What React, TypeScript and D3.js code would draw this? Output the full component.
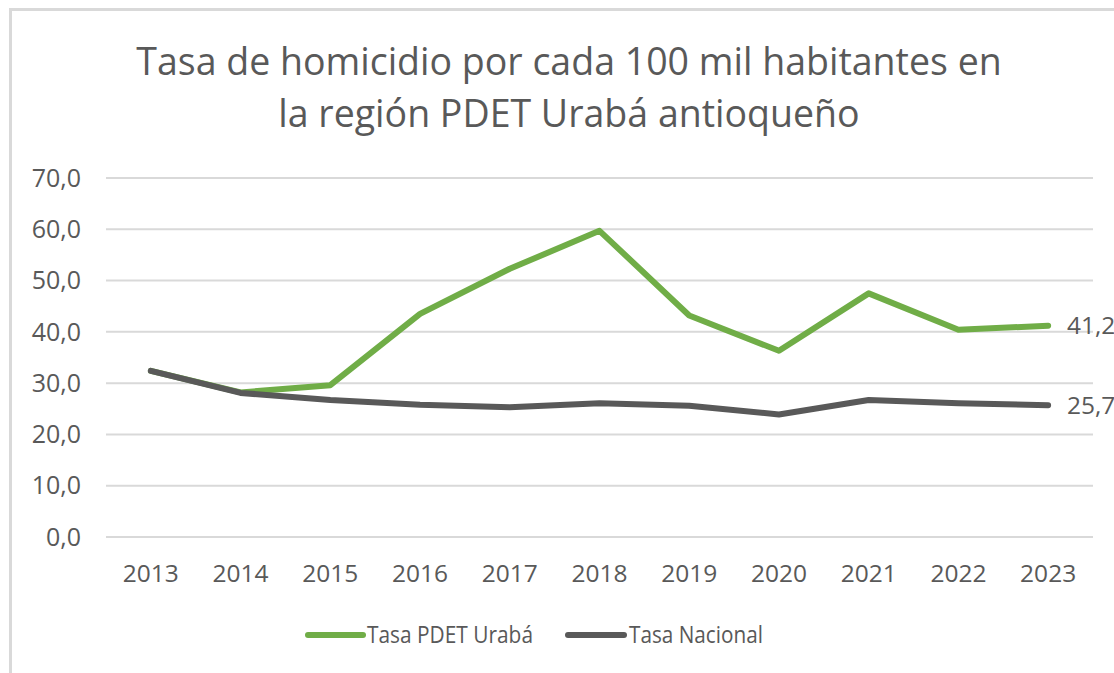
import React from "react";
import * as d3 from "d3";

const years = ["2013","2014","2015","2016","2017","2018","2019","2020","2021","2022","2023"];
const urabaValues = [32.4, 28.2, 29.6, 43.5, 52.3, 59.7, 43.2, 36.3, 47.5, 40.4, 41.2];
const nacionalValues = [32.4, 28.1, 26.7, 25.8, 25.3, 26.1, 25.6, 23.9, 26.7, 26.1, 25.7];
const yTicks = [0, 10, 20, 30, 40, 50, 60, 70];
const titleLines = ["Tasa de homicidio por cada 100 mil habitantes en", "la región PDET Urabá antioqueño"];
const seriesNames = ["Tasa PDET Urabá", "Tasa Nacional"];

const W = 1114, H = 673;
const GREEN = "#70AD47";
const GRAY = "#595959";
const TEXT = "#595959";
const FONT = "'Open Sans', 'Noto Sans', sans-serif";

export default function App() {
  const x = d3.scalePoint<string>().domain(years).range([106, 1093]).padding(0.5);
  const y = d3.scaleLinear().domain([0, 70]).range([537, 178]);
  const fmt = (v: number) => v.toFixed(1).replace(".", ",");
  const line = d3.line<number>()
    .x((_, i) => x(years[i]) as number)
    .y((d) => y(d));

  const series = [
    { name: seriesNames[0], values: urabaValues, color: GREEN },
    { name: seriesNames[1], values: nacionalValues, color: GRAY },
  ];
  const legendItems = [
    { name: seriesNames[0], color: GREEN, x1: 308, x2: 363, tx: 367, tw: 166 },
    { name: seriesNames[1], color: GRAY, x1: 568, x2: 624, tx: 629, tw: 134 },
  ];

  return (
    <svg width={W} height={H} style={{ position: "absolute", left: 0, top: 0, background: "#fff" }} fontFamily={FONT}>
      <rect x={0} y={0} width={W} height={H} fill="#fff" />
      <rect x={10.5} y={9.5} width={1300} height={900} fill="none" stroke="#d9d9d9" strokeWidth={3} />
      {titleLines.map((t, i) => (
        <text key={i} x={569} y={75 + i * 52} textAnchor="middle" fontSize={37.5} fill={TEXT}>{t}</text>
      ))}
      {yTicks.map((t) => (
        <g key={t}>
          <line x1={106} x2={1093} y1={y(t)} y2={y(t)} stroke="#d9d9d9" strokeWidth={2} />
          <text x={81} y={y(t)} dy="0.35em" textAnchor="end" fontSize={25} fill={TEXT}>{fmt(t)}</text>
        </g>
      ))}
      {years.map((yr) => (
        <text key={yr} x={x(yr)} y={582} textAnchor="middle" fontSize={24.5} fill={TEXT}>{yr}</text>
      ))}
      {series.map((s) => (
        <path key={s.name} d={line(s.values) || ""} fill="none" stroke={s.color} strokeWidth={6} strokeLinejoin="round" strokeLinecap="round" />
      ))}
      {series.map((s) => (
        <text key={s.name + "l"} x={1067} y={y(s.values[s.values.length - 1])} dy="0.35em" fontSize={24.5} fill={TEXT}>
          {fmt(s.values[s.values.length - 1])}
        </text>
      ))}
      {legendItems.map((l) => (
        <g key={l.name}>
          <line x1={l.x1} x2={l.x2} y1={635} y2={635} stroke={l.color} strokeWidth={6} strokeLinecap="round" />
          <text x={l.tx} y={635} dy="0.35em" fontSize={23} fill={TEXT} textLength={l.tw} lengthAdjust="spacingAndGlyphs">{l.name}</text>
        </g>
      ))}
    </svg>
  );
}
